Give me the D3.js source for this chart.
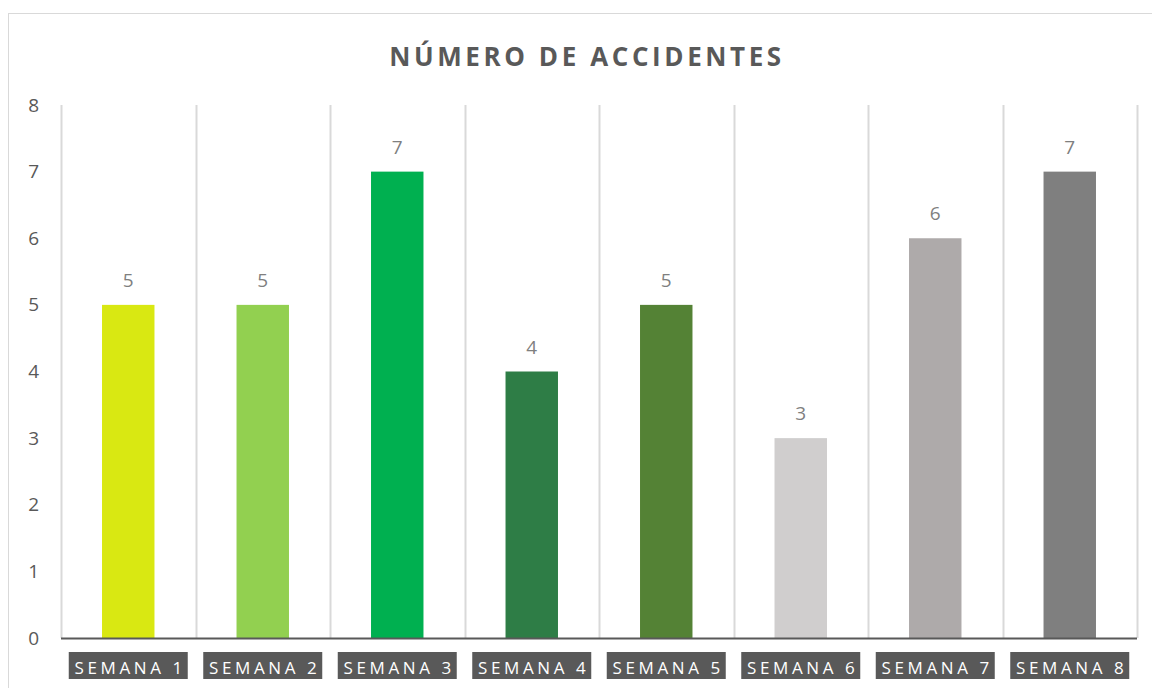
<!DOCTYPE html>
<html>
<head>
<meta charset="utf-8">
<script src="https://cdn.jsdelivr.net/npm/d3@7"></script>
<style>
  body { margin: 0; background: #fff; }
  svg { display: block; }
</style>
</head>
<body>
<script>
const semanas = ["SEMANA 1", "SEMANA 2", "SEMANA 3", "SEMANA 4", "SEMANA 5", "SEMANA 6", "SEMANA 7", "SEMANA 8"];
const accidentes = [5, 5, 7, 4, 5, 3, 6, 7];
const colores = ["#d9e812", "#92d050", "#00b050", "#2e7d46", "#548235", "#d0cece", "#aeaaaa", "#7f7f7f"];
const yTicks = [0, 1, 2, 3, 4, 5, 6, 7, 8];

const W = 1152;
const H = 688;
const Lpad = 61;
const Rpad = 15;
const Tpad = 105;
const Bpad = 50;

const svg = d3.select("body")
  .append("svg")
  .attr("width", W)
  .attr("height", H);

// chart frame
svg.append("rect")
  .attr("x", 8.5)
  .attr("y", 13.5)
  .attr("width", W + 20)
  .attr("height", H + 20)
  .attr("fill", "none")
  .attr("stroke", "#d9d9d9");

const xScale = d3.scaleBand()
  .domain(semanas)
  .range([Lpad, W - Rpad])
  .paddingInner(0.61)
  .paddingOuter(0.305);

const band = d3.scaleBand()
  .domain(semanas)
  .range([Lpad, W - Rpad]);

const yScale = d3.scaleLinear()
  .domain([0, 8])
  .range([H - Bpad, Tpad]);

// vertical gridlines at category boundaries
const bounds = semanas.map(s => band(s)).concat([W - Rpad]);
svg.append("g")
  .selectAll("line")
  .data(bounds)
  .enter()
  .append("line")
  .attr("x1", d => Math.round(d) + 0.5)
  .attr("x2", d => Math.round(d) + 0.5)
  .attr("y1", yScale(8))
  .attr("y2", yScale(0))
  .attr("stroke", "#d9d9d9")
  .attr("stroke-width", 2);

// y axis labels
const yAxis = d3.axisLeft(yScale)
  .tickValues(yTicks)
  .tickSize(0)
  .tickPadding(22);

svg.append("g")
  .attr("transform", `translate(${Lpad},0)`)
  .call(yAxis)
  .call(g => g.select(".domain").remove())
  .selectAll("text")
  .attr("fill", "#595959")
  .style("font-family", "'Open Sans', sans-serif")
  .style("font-size", "19px");

// bars
svg.selectAll("rect.bar")
  .data(accidentes)
  .enter()
  .append("rect")
  .attr("class", "bar")
  .attr("x", (d, i) => xScale(semanas[i]))
  .attr("y", d => yScale(d))
  .attr("width", xScale.bandwidth())
  .attr("height", d => yScale(0) - yScale(d))
  .attr("fill", (d, i) => colores[i]);

// value labels
svg.selectAll("text.val")
  .data(accidentes)
  .enter()
  .append("text")
  .attr("class", "val")
  .attr("x", (d, i) => band(semanas[i]) + band.bandwidth() / 2)
  .attr("y", d => yScale(d) - 18)
  .attr("text-anchor", "middle")
  .attr("fill", "#7f7f7f")
  .style("font-family", "'Open Sans', sans-serif")
  .style("font-size", "19px")
  .text(d => d);

// x axis line
svg.append("line")
  .attr("x1", Lpad)
  .attr("x2", W - Rpad)
  .attr("y1", yScale(0) + 0.5)
  .attr("y2", yScale(0) + 0.5)
  .attr("stroke", "#595959")
  .attr("stroke-width", 2);

// category labels on dark boxes
const xAxis = d3.axisBottom(band).tickSize(0).tickPadding(0);
const xg = svg.append("g")
  .attr("transform", `translate(0,${yScale(0)})`)
  .call(xAxis);
xg.select(".domain").remove();
xg.selectAll(".tick").insert("rect", "text")
  .attr("x", -59.5)
  .attr("y", 14)
  .attr("width", 119)
  .attr("height", 27)
  .attr("fill", "#595959");
xg.selectAll("text")
  .attr("fill", "#ffffff")
  .attr("y", 36)
  .attr("dy", null)
  .attr("dx", "2px")
  .style("font-family", "'Open Sans', sans-serif")
  .style("font-size", "17px")
  .style("letter-spacing", "3.6px");

// title
svg.append("text")
  .attr("x", 587)
  .attr("y", 66)
  .attr("text-anchor", "middle")
  .attr("fill", "#595959")
  .style("font-family", "'Open Sans', sans-serif")
  .style("font-weight", "bold")
  .style("font-size", "26px")
  .style("letter-spacing", "3.6px")
  .text("NÚMERO DE ACCIDENTES");
</script>
</body>
</html>
